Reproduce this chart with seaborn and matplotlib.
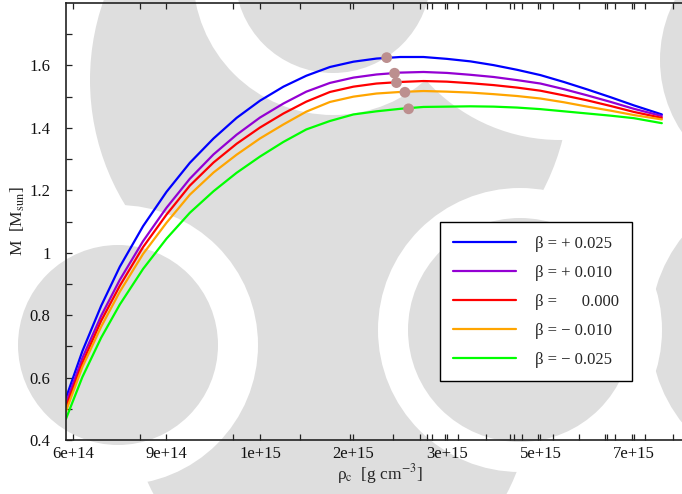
import numpy as np
import pandas as pd
import matplotlib
matplotlib.use("Agg")
import matplotlib.pyplot as plt
import seaborn as sns
from matplotlib.patches import Circle

# ---------------- data ----------------
tick_rho = [6e14, 9e14, 1e15, 2e15, 3e15, 5e15, 7e15]
tick_labels = ["6e+14", "9e+14", "1e+15", "2e+15", "3e+15", "5e+15", "7e+15"]

rho = [5.82e14, 6.25e14, 6.78e14, 7.35e14, 8.13e14, 9.0e14, 9.24e14, 9.49e14,
       9.74e14, 1.0e15, 1.19e15, 1.41e15, 1.68e15, 2.0e15, 2.21e15, 2.45e15,
       2.71e15, 3.0e15, 3.41e15, 3.87e15, 4.40e15, 5.0e15, 5.44e15, 5.92e15,
       6.44e15, 7.0e15, 7.74e15]

M_p025 = [0.535, 0.685, 0.830, 0.955, 1.085, 1.195, 1.288, 1.366, 1.432, 1.487, 1.532, 1.567,
          1.595, 1.612, 1.622, 1.627, 1.627, 1.621, 1.613, 1.601, 1.586, 1.569, 1.547, 1.523,
          1.498, 1.472, 1.443]
M_p010 = [0.519, 0.663, 0.798, 0.913, 1.037, 1.144, 1.237, 1.315, 1.378, 1.433, 1.478, 1.516,
          1.544, 1.561, 1.571, 1.577, 1.579, 1.576, 1.570, 1.563, 1.553, 1.542, 1.524, 1.504,
          1.483, 1.461, 1.438]
M_000 = [0.506, 0.647, 0.782, 0.894, 1.018, 1.122, 1.215, 1.289, 1.349, 1.401, 1.446, 1.484,
         1.515, 1.532, 1.542, 1.547, 1.550, 1.548, 1.543, 1.537, 1.529, 1.519, 1.504, 1.488,
         1.470, 1.451, 1.432]
M_m010 = [0.493, 0.634, 0.763, 0.875, 0.996, 1.096, 1.186, 1.257, 1.314, 1.366, 1.411, 1.452,
          1.483, 1.500, 1.510, 1.515, 1.518, 1.516, 1.513, 1.508, 1.502, 1.494, 1.482, 1.468,
          1.455, 1.441, 1.427]
M_m025 = [0.468, 0.602, 0.728, 0.834, 0.948, 1.045, 1.128, 1.197, 1.256, 1.308, 1.355, 1.395,
          1.422, 1.443, 1.453, 1.461, 1.467, 1.468, 1.469, 1.468, 1.465, 1.460, 1.453, 1.446,
          1.439, 1.431, 1.415]

labels = ["β = + 0.025", "β = + 0.010", "β =      0.000", "β = − 0.010", "β = − 0.025"]
colors = ["#0000ff", "#9400d3", "#ff0000", "#ffa500", "#00ff00"]

peak_rho = [2.31e15, 2.39e15, 2.41e15, 2.50e15, 2.54e15]
peak_M = [1.625, 1.575, 1.545, 1.514, 1.461]

df = pd.DataFrame({
    "rho": rho * 5,
    "M": M_p025 + M_p010 + M_000 + M_m010 + M_m025,
    "beta": sum([[l] * len(rho) for l in labels], []),
})
peaks = pd.DataFrame({"rho": peak_rho, "M": peak_M})

# ---------------- style ----------------
sns.set_style("ticks")
plt.rcParams["font.family"] = ["Liberation Serif", "DejaVu Serif"]
plt.rcParams["mathtext.fontset"] = "stix"

W, H = 682, 494
fig = plt.figure(figsize=(W / 100, H / 100), dpi=100)
fig.patch.set_facecolor("white")

# light grey watermark in the background (pixel coordinates, y from top)
GREY = "#dedede"
def disk(x, y, r, c):
    fig.add_artist(Circle((x / 100, (H - y) / 100), r / 100, transform=fig.dpi_scale_trans,
                          facecolor=c, edgecolor="none", zorder=-10))

disk(330, 80, 240, GREY)
disk(330, 400, 200, GREY)
disk(800, 330, 150, GREY)
disk(560, -40, 180, "white")
disk(790, 60, 130, GREY)
disk(333, -25, 140, "white")
disk(333, -25, 98, GREY)
disk(118, 345, 140, "white")
disk(118, 345, 100, GREY)
disk(520, 330, 142, "white")
disk(520, 330, 112, GREY)

# axes placement
ax = fig.add_axes([66 / W, 54 / H, 624 / W, 437 / H])
ax.set_facecolor("none")

# x scale: piecewise logarithmic between the labelled densities
LT = np.log10(tick_rho)
P = np.arange(len(LT), dtype=float)

def fwd(x):
    lx = np.log10(np.maximum(np.asarray(x, dtype=float), 1.0))
    u = np.interp(lx, LT, P)
    u = np.where(lx < LT[0], (lx - LT[0]) / (LT[1] - LT[0]), u)
    u = np.where(lx > LT[-1], P[-1] + (lx - LT[-1]) / (LT[-1] - LT[-2]), u)
    return u

def inv(u):
    u = np.asarray(u, dtype=float)
    lx = np.interp(u, P, LT)
    lx = np.where(u < 0, LT[0] + u * (LT[1] - LT[0]), lx)
    lx = np.where(u > P[-1], LT[-1] + (u - P[-1]) * (LT[-1] - LT[-2]), lx)
    return 10 ** lx

ax.set_xscale("function", functions=(fwd, inv))

sns.lineplot(data=df, x="rho", y="M", hue="beta", hue_order=labels,
             palette=dict(zip(labels, colors)), linewidth=1.6, ax=ax, sort=False)
sns.scatterplot(data=peaks, x="rho", y="M", color="#bc8f8f", s=60,
                edgecolor="none", ax=ax, zorder=4, legend=False)

ax.set_xlim(float(inv(-0.075)), float(inv(6.6)))
ax.set_ylim(0.4, 1.8)

ax.set_xticks(tick_rho)
ax.set_xticklabels(tick_labels)
minor_u = [0.717, 1.711, 2.428, 2.963, 3.422, 3.711, 3.786, 3.840, 3.979, 4.118, 4.417,
           4.674, 4.717, 4.802, 4.973, 5.134, 5.412, 5.690, 5.711, 5.797, 5.979, 6.118, 6.417]
ax.set_xticks(inv(np.array(minor_u)), minor=True)
ax.set_yticks([0.4, 0.6, 0.8, 1.0, 1.2, 1.4, 1.6])
ax.set_yticklabels(["0.4", "0.6", "0.8", "1", "1.2", "1.4", "1.6"])
ax.set_yticks(np.arange(0.5, 1.8, 0.2), minor=True)

ax.tick_params(axis="both", which="both", direction="in", top=True, right=True,
               length=4.2, width=0.9, color="#222222", labelsize=12, labelcolor="#111111")
ax.tick_params(axis="x", which="major", pad=4)
ax.tick_params(axis="y", which="major", pad=11)
for s in ax.spines.values():
    s.set_linewidth(1.2)
    s.set_color("#222222")

ax.set_xlabel("ρ$_{\\mathrm{c}}$  [g cm$^{-3}$]", fontsize=12.5)
ax.set_ylabel("M  [M$_{\\mathrm{sun}}$]", fontsize=12.5)
ax.xaxis.set_label_coords(0.503, -0.05)
ax.yaxis.set_label_coords(-0.062, 0.5)

handles, lbls = ax.get_legend_handles_labels()
leg = ax.legend(handles, lbls, loc="lower left", bbox_to_anchor=(0.599, 0.135),
                fontsize=12, frameon=True, fancybox=False, framealpha=1,
                edgecolor="black", handlelength=3.8, handletextpad=1.1,
                labelspacing=0.78, borderpad=0.8, borderaxespad=0)
leg.get_frame().set_linewidth(1.0)
for line in leg.get_lines():
    line.set_linewidth(1.6)

fig.savefig("out.png", dpi=100)
